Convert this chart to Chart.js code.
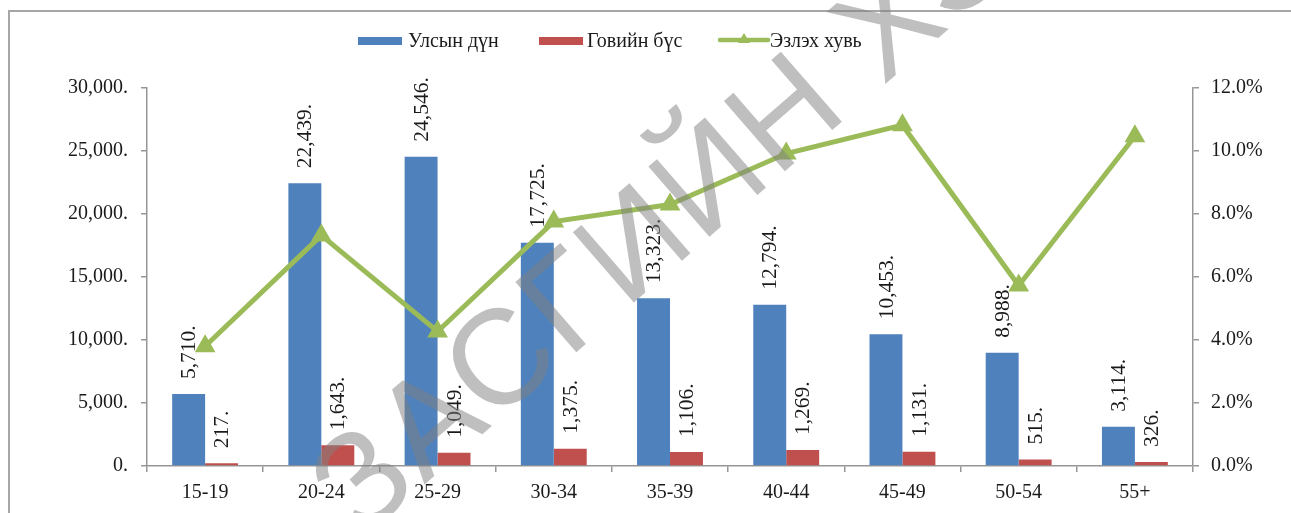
<!DOCTYPE html>
<html>
<head>
<meta charset="utf-8">
<script src="https://cdn.jsdelivr.net/npm/chart.js@4.4.1/dist/chart.umd.min.js"></script>
<style>
  html, body { margin: 0; padding: 0; background: #fff; }
  #wrap { position: relative; width: 1291px; height: 513px; overflow: hidden; }
  #frame { position: absolute; left: 8px; top: 10px; width: 1300px; height: 520px; border-left: 2px solid #a6a6a6; border-top: 2px solid #a6a6a6; box-sizing: border-box; }
  canvas { position: absolute; left: 0; top: 0; }
  .lg { position: absolute; font-family: "Liberation Serif", serif; font-size: 20px; color: #1a1a1a; top: 29px; line-height: 22px; white-space: nowrap; }
  .box { position: absolute; height: 8px; width: 44px; top: 37px; }
</style>
</head>
<body>
<div id="wrap">
  <div id="frame"></div>
  <canvas id="c" width="1291" height="513"></canvas>
  <div class="box" style="left:358px;background:#4F81BD"></div>
  <div class="lg" style="left:408px">Улсын дүн</div>
  <div class="box" style="left:539px;background:#C0504D"></div>
  <div class="lg" style="left:587px">Говийн бүс</div>
  <svg style="position:absolute;left:716px;top:30px" width="56" height="20">
    <line x1="4" y1="10" x2="52" y2="10" stroke="#9BBB59" stroke-width="4.5" stroke-linecap="round"/>
    <polygon points="28,3 34,13 22,13" fill="#9BBB59"/>
  </svg>
  <div class="lg" style="left:770px">Эзлэх хувь</div>
</div>
<script>
const categories = ["15-19", "20-24", "25-29", "30-34", "35-39", "40-44", "45-49", "50-54", "55+"];
const nationalTotal = [5710, 22439, 24546, 17725, 13323, 12794, 10453, 8988, 3114];
const gobiRegion = [217, 1643, 1049, 1375, 1106, 1269, 1131, 515, 326];
const sharePercent = [3.80, 7.32, 4.27, 7.76, 8.30, 9.92, 10.82, 5.73, 10.47];
const leftTicks = [0, 5000, 10000, 15000, 20000, 25000, 30000];
const rightTicks = [0, 2, 4, 6, 8, 10, 12];
const watermarkText = "ЗАСГИЙН ХЭ";

const FONT = "Liberation Serif";
const fmtNum = v => v.toLocaleString("en-US") + ".";

const barLabels = {
  id: "barLabels",
  beforeDatasetsDraw(chart) {
    const ctx = chart.ctx;
    ctx.save();
    ctx.font = "21.5px '" + FONT + "'";
    ctx.fillStyle = "#1a1a1a";
    ctx.textAlign = "left";
    ctx.textBaseline = "middle";
    chart.data.datasets.forEach((ds, i) => {
      if (ds.type !== "bar") return;
      const meta = chart.getDatasetMeta(i);
      meta.data.forEach((el, j) => {
        ctx.save();
        ctx.translate(el.x + 1, el.y - 15);
        ctx.rotate(-Math.PI / 2);
        ctx.fillText(fmtNum(ds.data[j]), 0, 0);
        ctx.restore();
      });
    });
    ctx.restore();
  }
};

const watermark = {
  id: "watermark",
  afterDraw(chart) {
    const ctx = chart.ctx;
    ctx.save();
    ctx.font = "135px 'Liberation Sans'";
    try { ctx.letterSpacing = "3px"; } catch (e) {}
    ctx.fillStyle = "rgba(128,128,128,0.5)";
    ctx.textAlign = "left";
    ctx.textBaseline = "middle";
    ctx.translate(336, 512);
    ctx.rotate(-41 * Math.PI / 180);
    ctx.fillText(watermarkText, 0, 0);
    ctx.restore();
  }
};

new Chart(document.getElementById("c"), {
  data: {
    labels: categories,
    datasets: [
      {
        type: "line", label: "Эзлэх хувь", data: sharePercent, yAxisID: "y1", order: 0,
        borderColor: "#9BBB59", backgroundColor: "#9BBB59", borderWidth: 5,
        pointStyle: "triangle", pointRadius: 12, pointBorderWidth: 0, pointBackgroundColor: "#9BBB59",
        tension: 0
      },
      {
        type: "bar", label: "Улсын дүн", data: nationalTotal, yAxisID: "y", order: 1,
        backgroundColor: "#4F81BD", categoryPercentage: 0.567, barPercentage: 1.0
      },
      {
        type: "bar", label: "Говийн бүс", data: gobiRegion, yAxisID: "y", order: 2,
        backgroundColor: "#C0504D", categoryPercentage: 0.567, barPercentage: 1.0
      }
    ]
  },
  options: {
    responsive: false,
    animation: false,
    devicePixelRatio: 1,
    layout: { padding: { top: 88, left: 0, right: 0, bottom: 0 } },
    plugins: { legend: { display: false }, tooltip: { enabled: false }, title: { display: false } },
    scales: {
      x: {
        type: "category",
        offset: true,
        grid: { display: true, drawOnChartArea: false, offset: true, tickLength: 6, color: "#969696", lineWidth: 1.5 },
        border: { color: "#969696", width: 1.5 },
        ticks: { font: { family: FONT, size: 20 }, color: "#1a1a1a", padding: 9, maxRotation: 0 },
        afterFit(s) { s.height = 47; }
      },
      y: {
        position: "left", min: 0, max: 30000,
        afterBuildTicks(s) { s.ticks = leftTicks.map(v => ({ value: v })); },
        grid: { display: true, drawOnChartArea: false, tickLength: 6, color: "#969696", lineWidth: 1.5 },
        border: { color: "#969696", width: 1.5 },
        ticks: { font: { family: FONT, size: 20 }, color: "#1a1a1a", padding: 13, callback: v => fmtNum(v) },
        afterFit(s) { s.width = 147; }
      },
      y1: {
        position: "right", min: 0, max: 12,
        afterBuildTicks(s) { s.ticks = rightTicks.map(v => ({ value: v })); },
        grid: { display: true, drawOnChartArea: false, tickLength: 6, color: "#969696", lineWidth: 1.5 },
        border: { color: "#969696", width: 1.5 },
        ticks: { font: { family: FONT, size: 20 }, color: "#1a1a1a", padding: 12, callback: v => v.toFixed(1) + "%" },
        afterFit(s) { s.width = 98; }
      }
    }
  },
  plugins: [barLabels, watermark]
});
</script>
</body>
</html>
